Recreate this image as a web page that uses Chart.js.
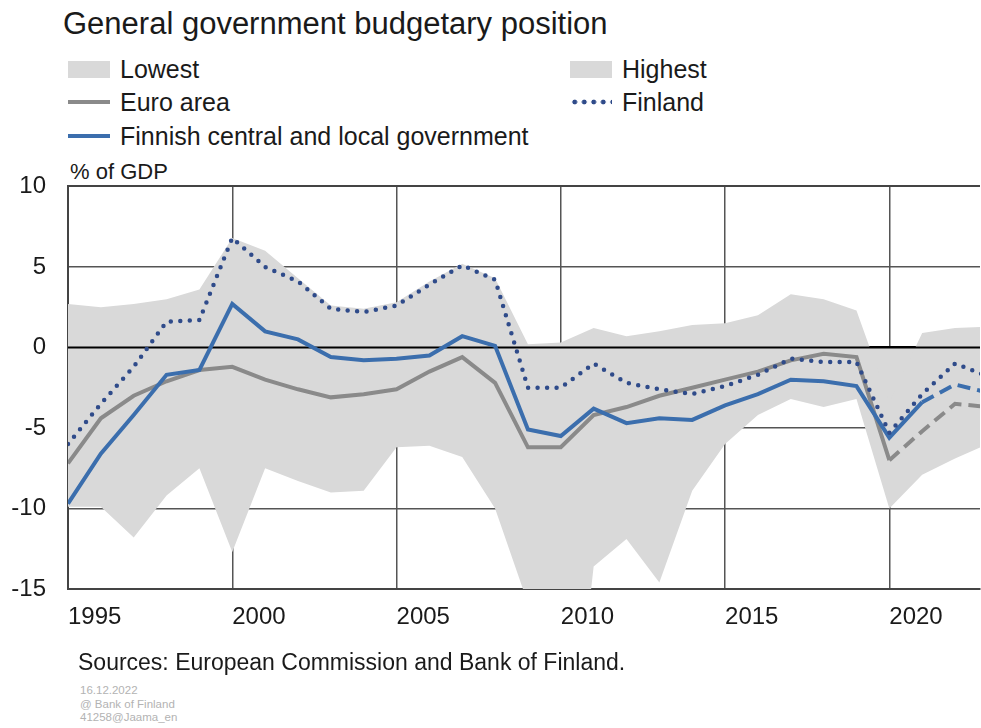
<!doctype html>
<html lang="en">
  <head>
    <meta charset="utf-8">
    <title>General government budgetary position</title>
    <script src="https://cdn.jsdelivr.net/npm/chart.js@4.4.0/dist/chart.umd.min.js"></script>
    <style>
      body { margin: 0; background: #fff; font-family: "Liberation Sans", Arial, sans-serif; color: #1a1a1a; }
      #page { position: relative; width: 981px; height: 728px; overflow: hidden; }
      .abs { position: absolute; white-space: nowrap; }
      #title { left: 63px; top: 6px; font-size: 31px; line-height: 36px; }
      .item { position: absolute; height: 30px; display: flex; align-items: center; font-size: 25px; }
      .sw { width: 42px; margin-right: 10px; }
      .box { height: 17px; background: #d9d9d9; }
      .line { height: 4px; }
      .dots { height: 6px; background: radial-gradient(circle, #2f4b8a 2.2px, transparent 2.7px) 0 0 / 9.5px 6px repeat-x; }
      #unit { left: 70px; top: 159px; font-size: 22px; }
      #sources { left: 78px; top: 649px; font-size: 23px; }
      #footer { left: 80px; top: 684px; font-size: 11.5px; line-height: 13.5px; color: #b3b3b3; }
      #wrap { position: absolute; left: 0; top: 150px; width: 981px; height: 500px; }
    </style>
  </head>
  <body>
    <div id="page">
      <div id="title" class="abs">General government budgetary position</div>

      <div class="item" style="left:68px; top:54px"><div class="sw box"></div>Lowest</div>
      <div class="item" style="left:570px; top:54px"><div class="sw box"></div>Highest</div>
      <div class="item" style="left:68px; top:87px"><div class="sw line" style="background:#8a8a8a"></div>Euro area</div>
      <div class="item" style="left:570px; top:87px"><div class="sw dots"></div>Finland</div>
      <div class="item" style="left:68px; top:121px"><div class="sw line" style="background:#3b6ead"></div>Finnish central and local government</div>

      <div id="unit" class="abs">% of GDP</div>
      <div id="wrap"><canvas id="chart" width="981" height="500"></canvas></div>
      <div id="sources" class="abs">Sources: European Commission and Bank of Finland.</div>
      <div id="footer" class="abs">16.12.2022<br>@ Bank of Finland<br>41258@Jaama_en</div>
    </div>

    <script>
      // years 1995..2023 (picture is cut just before 2023)
      const years = [1995, 1996, 1997, 1998, 1999, 2000, 2001, 2002, 2003, 2004,
                     2005, 2006, 2007, 2008, 2009, 2010, 2011, 2012, 2013, 2014,
                     2015, 2016, 2017, 2018, 2019, 2020, 2021, 2022, 2023];

      const finland = [-6.0, -3.5, -1.2, 1.6, 1.7, 6.8, 5.0, 4.1, 2.4, 2.2,
                       2.6, 3.9, 5.1, 4.2, -2.5, -2.5, -1.0, -2.2, -2.6, -2.9,
                       -2.4, -1.7, -0.7, -0.9, -0.9, -5.3, -2.9, -1.0, -1.8];

      const centralLocal = [-9.7, -6.6, -4.2, -1.7, -1.4, 2.7, 1.0, 0.5, -0.6, -0.8,
                            -0.7, -0.5, 0.7, 0.1, -5.1, -5.5, -3.8, -4.7, -4.4, -4.5,
                            -3.6, -2.9, -2.0, -2.1, -2.4, -5.6, -3.4, -2.3, -2.8];

      const euroArea = [-7.2, -4.4, -3.0, -2.1, -1.4, -1.2, -2.0, -2.6, -3.1, -2.9,
                        -2.6, -1.5, -0.6, -2.2, -6.2, -6.2, -4.2, -3.7, -3.0, -2.5,
                        -2.0, -1.5, -0.8, -0.4, -0.6, -7.0, -5.2, -3.5, -3.7];

      const highest = [2.7, 2.5, 2.7, 3.0, 3.6, 6.8, 6.0, 4.3, 2.6, 2.4,
                       2.8, 4.1, 5.2, 4.3, 0.2, 0.3, 1.2, 0.7, 1.0, 1.4,
                       1.5, 2.0, 3.3, 3.0, 2.3, -3.4, 0.9, 1.2, 1.3];

      const lowest = [-9.9, -9.9, -11.8, -9.2, -7.5, -12.7, -7.5, -8.3, -9.0, -8.9,
                      -6.2, -6.1, -6.8, -10.0, -15.9, -32.0, -13.6, -11.9, -14.6, -8.9,
                      -6.0, -4.2, -3.2, -3.7, -3.2, -10.0, -7.9, -6.9, -6.0];

      // forecasts are drawn dashed from these years on
      const euroForecastFrom = 2020;
      const finForecastFrom = 2021;

      const xMin = 1995, xMax = 2022.76;
      const xTicks = [1995, 2000, 2005, 2010, 2015, 2020];
      const yTicks = [10, 5, 0, -5, -10, -15];

      const pts = arr => years.map((yr, i) => ({ x: yr, y: arr[i] }));

      const zeroLine = {
        id: 'zeroLine',
        afterDatasetDraw(chart, args) {
          if (args.index !== 3) return;
          const { ctx, chartArea } = chart;
          const y = chart.scales.y.getPixelForValue(0);
          ctx.save();
          ctx.strokeStyle = '#000';
          ctx.lineWidth = 2;
          ctx.beginPath();
          ctx.moveTo(chartArea.left, y);
          ctx.lineTo(chartArea.right, y);
          ctx.stroke();
          ctx.restore();
        }
      };

      const ctx = document.getElementById('chart').getContext('2d');
      const myChart = new Chart(ctx, {
        type: 'line',
        data: {
          datasets: [
            {
              label: 'Finland',
              data: pts(finland),
              borderColor: '#2f4b8a',
              borderWidth: 4.5,
              borderDash: [0, 9.5],
              borderCapStyle: 'round',
              pointRadius: 0,
              fill: false
            },
            {
              label: 'Finnish central and local government',
              data: pts(centralLocal),
              borderColor: '#3b6ead',
              borderWidth: 4,
              pointRadius: 0,
              fill: false,
              segment: {
                borderDash: c => c.p0.parsed.x >= finForecastFrom ? [13, 7] : undefined
              }
            },
            {
              label: 'Euro area',
              data: pts(euroArea),
              borderColor: '#8a8a8a',
              borderWidth: 4,
              pointRadius: 0,
              fill: false,
              segment: {
                borderDash: c => c.p0.parsed.x >= euroForecastFrom ? [13, 7] : undefined
              }
            },
            {
              label: 'Highest',
              data: pts(highest),
              borderWidth: 0,
              borderColor: 'rgba(0,0,0,0)',
              backgroundColor: '#d9d9d9',
              pointRadius: 0,
              fill: 'origin'
            },
            {
              label: 'Lowest',
              data: pts(lowest),
              borderWidth: 0,
              borderColor: 'rgba(0,0,0,0)',
              backgroundColor: '#d9d9d9',
              pointRadius: 0,
              fill: 'origin'
            }
          ]
        },
        options: {
          responsive: false,
          animation: false,
          devicePixelRatio: 1,
          layout: { padding: { top: 34, right: 1, left: 0, bottom: 0 } },
          plugins: {
            legend: { display: false },
            tooltip: { enabled: false }
          },
          scales: {
            x: {
              type: 'linear',
              min: xMin,
              max: xMax,
              afterBuildTicks: s => { s.ticks = xTicks.map(v => ({ value: v })); },
              afterFit: s => { s.height = 61; },
              ticks: {
                align: 'start',
                maxRotation: 0,
                autoSkip: false,
                padding: 14,
                color: '#1a1a1a',
                font: { family: 'Liberation Sans', size: 24 },
                callback: v => String(v)
              },
              grid: { drawTicks: false, color: '#555', lineWidth: 1.5 },
              border: { display: true, color: '#444', width: 2 }
            },
            y: {
              min: -15,
              max: 10,
              afterBuildTicks: s => { s.ticks = yTicks.map(v => ({ value: v })); },
              afterFit: s => { s.width = 68; },
              ticks: {
                padding: 22,
                color: '#1a1a1a',
                font: { family: 'Liberation Sans', size: 24 },
                callback: v => String(v)
              },
              grid: {
                drawTicks: false,
                color: c => c.tick.value === 0 ? '#000' : (c.tick.value === 10 ? '#444' : '#555'),
                lineWidth: c => (c.tick.value === 10 || c.tick.value === 0) ? 2 : 1.5
              },
              border: { display: true, color: '#444', width: 2 }
            }
          }
        },
        plugins: [zeroLine]
      });
    </script>
  </body>
</html>
